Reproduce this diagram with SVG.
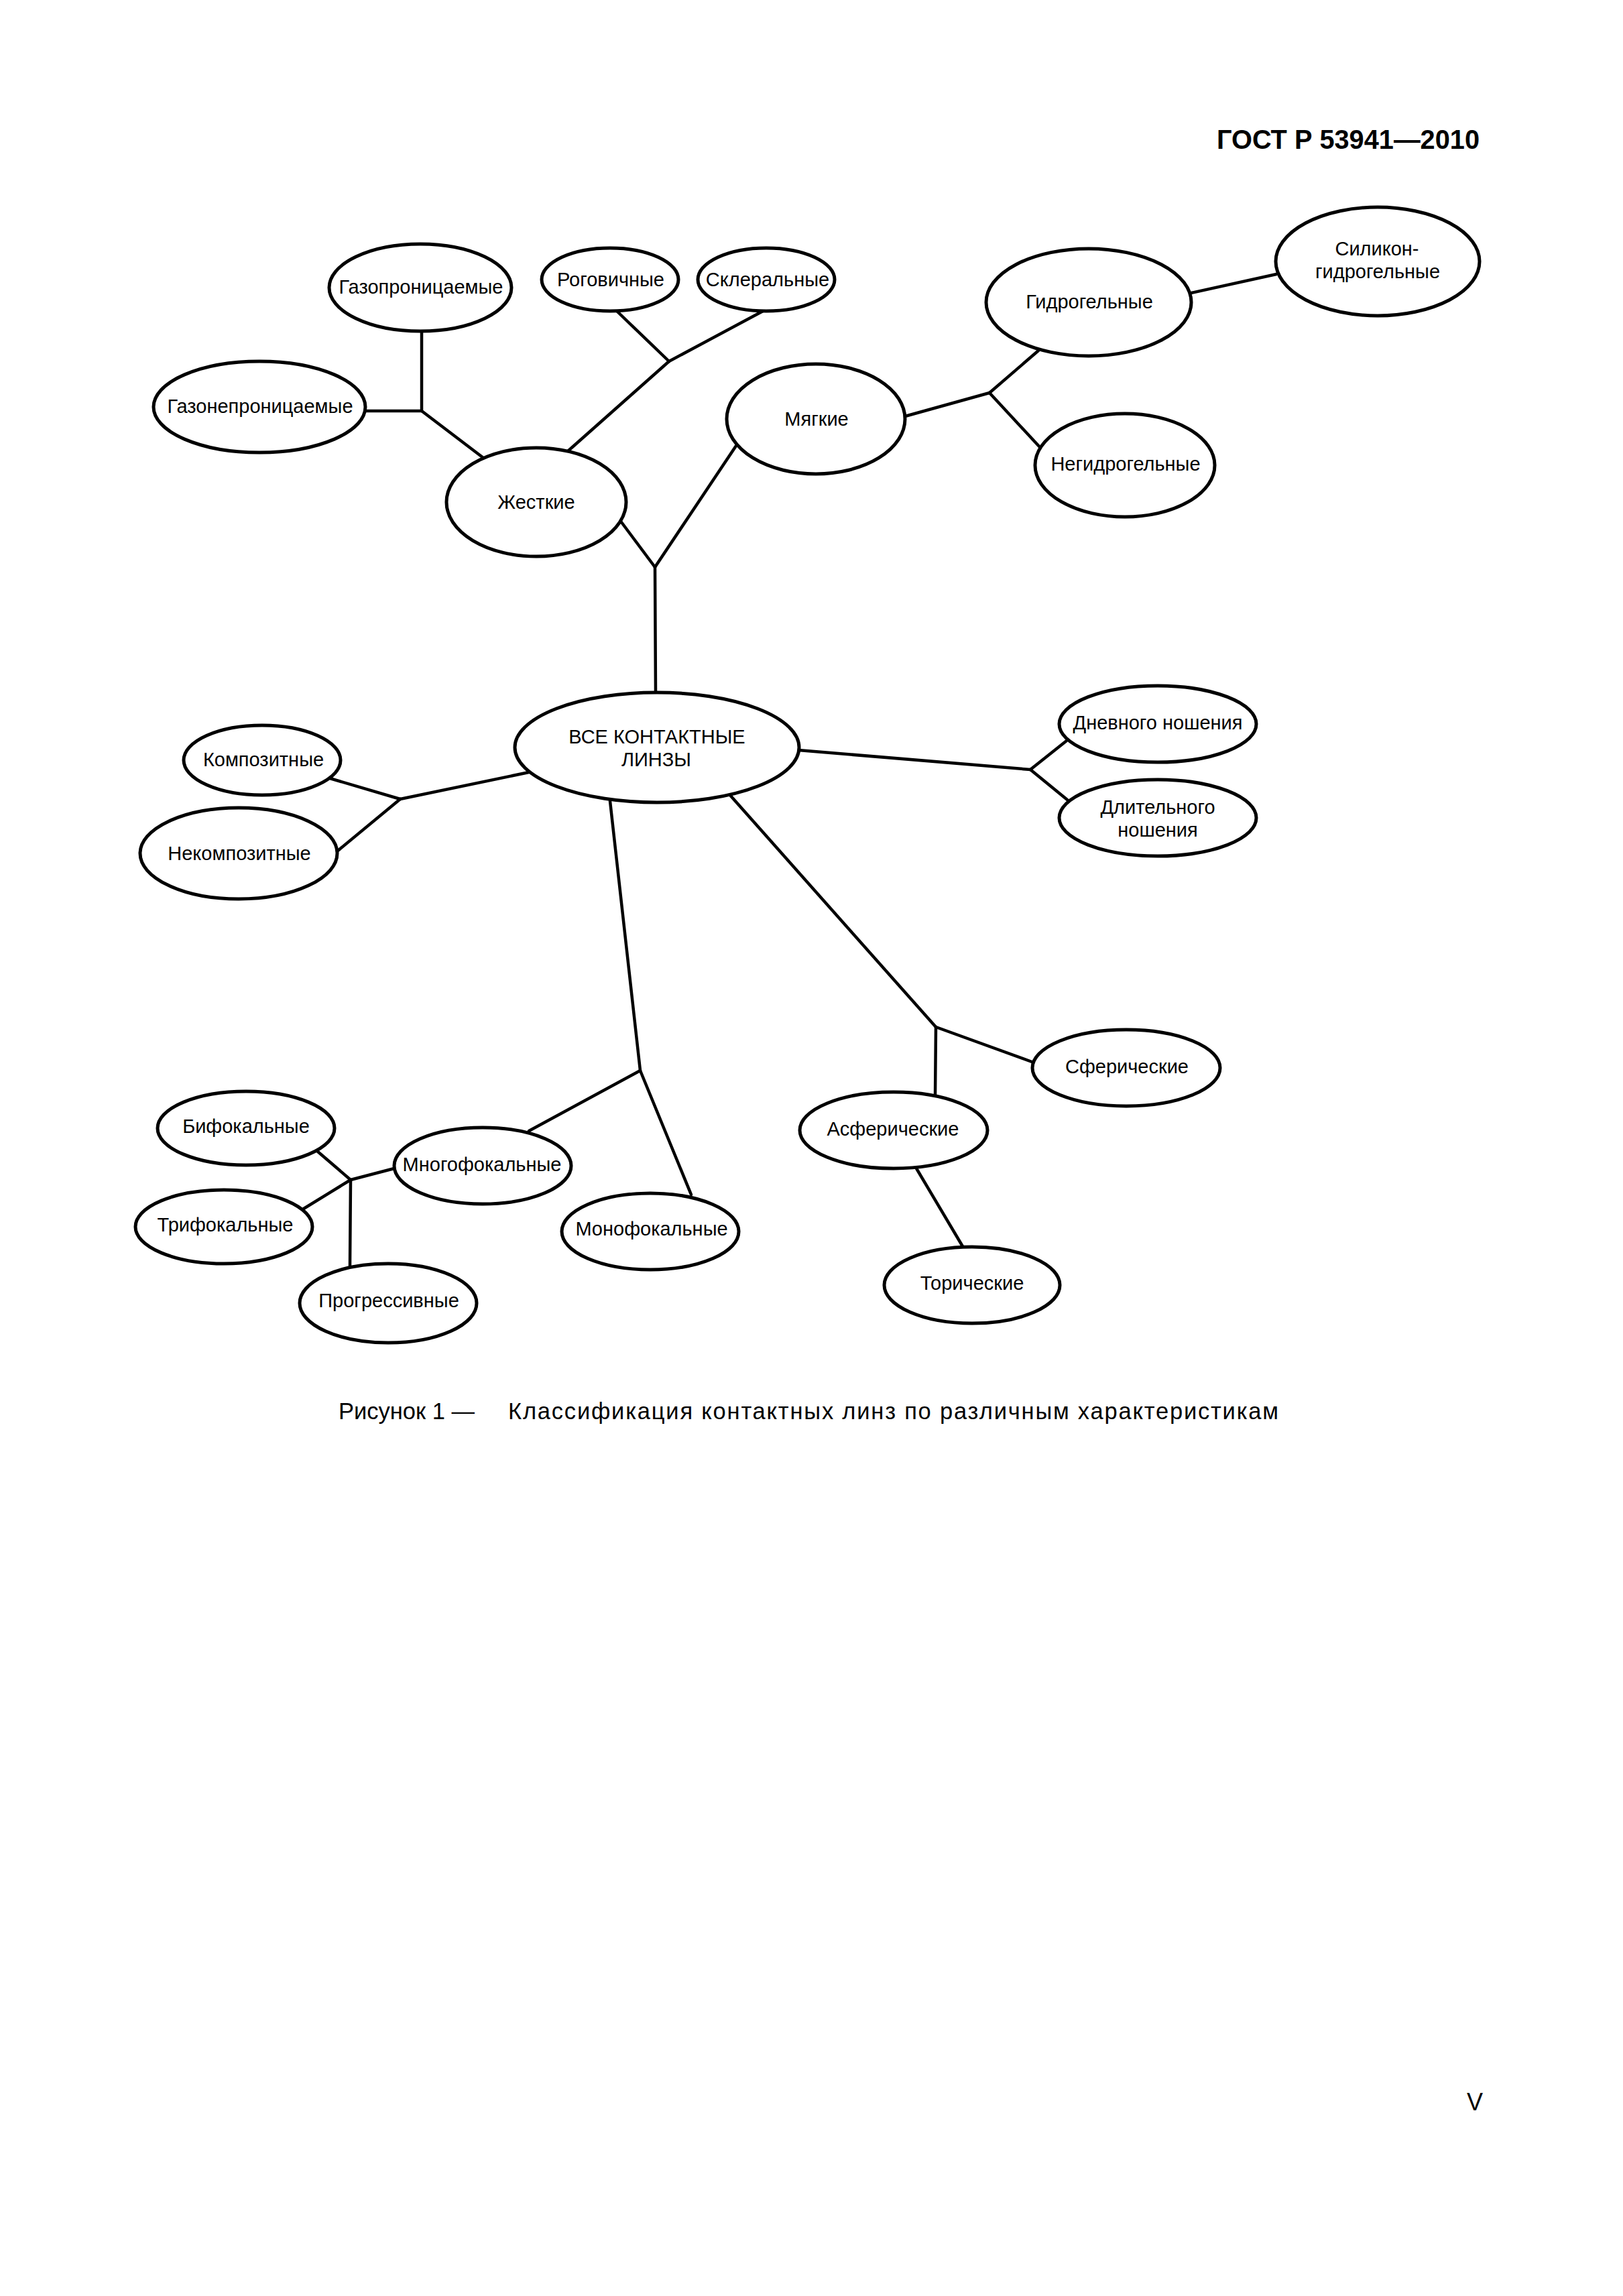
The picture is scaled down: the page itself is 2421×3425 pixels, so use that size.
<svg xmlns="http://www.w3.org/2000/svg" width="2421" height="3425" viewBox="0 0 2421 3425">
<style>
.bg{fill:#fff}
.c line{stroke:#000;stroke-width:4.5;stroke-linecap:round}
.n ellipse{fill:#fff;stroke:#000;stroke-width:5}
.n text{font-family:"Liberation Sans",Arial,sans-serif;font-size:29px;fill:#000;text-anchor:middle}
.hdr{font-family:"Liberation Sans",Arial,sans-serif;font-weight:bold;font-size:40px;fill:#000}
.cap{font-family:"Liberation Sans",Arial,sans-serif;font-size:34.5px;fill:#000}
</style>
<rect class="bg" x="0" y="0" width="2421" height="3425"/>
<text class="hdr" x="1815" y="222" textLength="392" lengthAdjust="spacingAndGlyphs">ГОСТ Р 53941—2010</text>
<g id="connectors" class="c">
<line x1="629" y1="495" x2="629" y2="613"/>
<line x1="545" y1="613" x2="629" y2="613"/>
<line x1="629" y1="613" x2="721" y2="683"/>
<line x1="919" y1="463" x2="998" y2="539"/>
<line x1="1140" y1="463" x2="998" y2="539"/>
<line x1="998" y1="539" x2="847" y2="673"/>
<line x1="927" y1="779" x2="977" y2="846"/>
<line x1="1098" y1="665" x2="977" y2="846"/>
<line x1="977" y1="846" x2="978" y2="1035"/>
<line x1="1350" y1="621" x2="1476" y2="586"/>
<line x1="1476" y1="586" x2="1549" y2="523"/>
<line x1="1476" y1="586" x2="1552" y2="668"/>
<line x1="1777" y1="437" x2="1904" y2="409"/>
<line x1="789" y1="1152" x2="597" y2="1192"/>
<line x1="597" y1="1192" x2="492" y2="1161"/>
<line x1="597" y1="1192" x2="504" y2="1269"/>
<line x1="1191" y1="1119" x2="1537" y2="1148"/>
<line x1="1537" y1="1148" x2="1591" y2="1105"/>
<line x1="1537" y1="1148" x2="1592" y2="1193"/>
<line x1="910" y1="1195" x2="955" y2="1597"/>
<line x1="955" y1="1597" x2="789" y2="1687"/>
<line x1="955" y1="1597" x2="1031" y2="1782"/>
<line x1="588" y1="1743" x2="523" y2="1760"/>
<line x1="523" y1="1760" x2="473" y2="1717"/>
<line x1="523" y1="1760" x2="453" y2="1803"/>
<line x1="523" y1="1760" x2="522" y2="1888"/>
<line x1="1088" y1="1185" x2="1396" y2="1532"/>
<line x1="1396" y1="1532" x2="1542" y2="1585"/>
<line x1="1396" y1="1532" x2="1395" y2="1636"/>
<line x1="1367" y1="1743" x2="1437" y2="1861"/>
</g>
<g id="n-gazopr" class="n"><ellipse cx="627" cy="429" rx="136" ry="65"/><text x="628" y="438">Газопроницаемые</text></g>
<g id="n-rogov" class="n"><ellipse cx="910" cy="417" rx="102" ry="47"/><text x="911" y="427">Роговичные</text></g>
<g id="n-skler" class="n"><ellipse cx="1143" cy="417" rx="102" ry="47"/><text x="1145" y="427">Склеральные</text></g>
<g id="n-gazonepr" class="n"><ellipse cx="387" cy="607" rx="158" ry="68"/><text x="388" y="616">Газонепроницаемые</text></g>
<g id="n-zhest" class="n"><ellipse cx="800" cy="749" rx="134" ry="81"/><text x="800" y="759">Жесткие</text></g>
<g id="n-myag" class="n"><ellipse cx="1217" cy="625" rx="133" ry="82"/><text x="1218" y="635">Мягкие</text></g>
<g id="n-gidro" class="n"><ellipse cx="1624" cy="451" rx="153" ry="80"/><text x="1625" y="460">Гидрогельные</text></g>
<g id="n-silikon" class="n"><ellipse cx="2055" cy="390" rx="152" ry="81"/><text x="2054" y="381">Силикон-</text><text x="2055" y="415">гидрогельные</text></g>
<g id="n-negidro" class="n"><ellipse cx="1678" cy="694" rx="134" ry="77"/><text x="1679" y="702">Негидрогельные</text></g>
<g id="n-vse" class="n"><ellipse cx="980" cy="1115" rx="212" ry="82"/><text x="980" y="1109">ВСЕ КОНТАКТНЫЕ</text><text x="979" y="1143">ЛИНЗЫ</text></g>
<g id="n-kompoz" class="n"><ellipse cx="391" cy="1134" rx="117" ry="52"/><text x="393" y="1143">Композитные</text></g>
<g id="n-nekompoz" class="n"><ellipse cx="356" cy="1273" rx="147" ry="68"/><text x="357" y="1283">Некомпозитные</text></g>
<g id="n-dnev" class="n"><ellipse cx="1727" cy="1080" rx="147" ry="57"/><text x="1727" y="1088">Дневного ношения</text></g>
<g id="n-dlit" class="n"><ellipse cx="1727" cy="1220" rx="147" ry="57"/><text x="1727" y="1214">Длительного</text><text x="1727" y="1248">ношения</text></g>
<g id="n-bifok" class="n"><ellipse cx="367" cy="1683" rx="132" ry="55"/><text x="367" y="1690">Бифокальные</text></g>
<g id="n-mnogofok" class="n"><ellipse cx="720" cy="1739" rx="132" ry="57"/><text x="719" y="1747">Многофокальные</text></g>
<g id="n-trifok" class="n"><ellipse cx="334" cy="1830" rx="132" ry="55"/><text x="336" y="1837">Трифокальные</text></g>
<g id="n-progr" class="n"><ellipse cx="579" cy="1944" rx="132" ry="59"/><text x="580" y="1950">Прогрессивные</text></g>
<g id="n-monofok" class="n"><ellipse cx="970" cy="1837" rx="132" ry="57"/><text x="972" y="1843">Монофокальные</text></g>
<g id="n-sfer" class="n"><ellipse cx="1680" cy="1593" rx="140" ry="57"/><text x="1681" y="1601">Сферические</text></g>
<g id="n-asfer" class="n"><ellipse cx="1333" cy="1686" rx="140" ry="57"/><text x="1332" y="1694">Асферические</text></g>
<g id="n-tor" class="n"><ellipse cx="1450" cy="1917" rx="131" ry="57"/><text x="1450" y="1924">Торические</text></g>
<text class="cap" x="505" y="2117">Рисунок 1 —</text>
<text class="cap" x="758" y="2117" textLength="1149" lengthAdjust="spacing">Классификация контактных линз по различным характеристикам</text>
<text class="cap" x="2200" y="3148" text-anchor="middle" style="font-size:36px">V</text>
</svg>
